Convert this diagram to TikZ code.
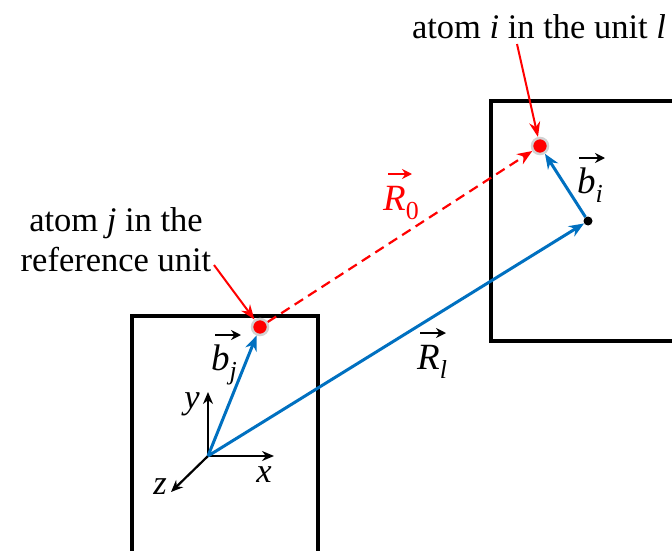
\documentclass[tikz,border=0pt]{standalone}
\usepackage{fontspec}
\setmainfont{Liberation Serif}
\usetikzlibrary{arrows.meta}
\definecolor{vecblue}{RGB}{0,112,192}

\begin{document}
\begin{tikzpicture}[x=1pt,y=-1pt,
    every node/.style={font=\fontsize{34.5}{40}\selectfont},
    veclabel/.style={inner sep=0pt, font=\fontsize{37}{40}\selectfont\itshape},
    cellbox/.style={line width=3.4pt},
    bluevec/.style={vecblue, line width=3pt, -{Stealth[length=15pt,width=12pt]}},
    axisvec/.style={black, line width=2.2pt, -{Stealth[length=12pt,width=10pt]}},
    overarrow/.style={line width=2.2pt, -{Stealth[length=10pt,width=10pt]}},
    pointer/.style={red, line width=2pt, -{Stealth[length=15pt,width=11pt]}},
    reddot/.style={circle, fill=red, draw=gray!35, line width=2.5pt, inner sep=0pt, minimum size=16pt},
    blackdot/.style={circle, fill=black, inner sep=0pt, minimum size=9pt}
]

    \useasboundingbox (0,0) rectangle (672,551);
    \clip (0,0) rectangle (672,551);

    %----- UNIT CELLS -----
    \draw[cellbox] (132,560) -- (132,316) -- (318,316) -- (318,560);
    \draw[cellbox] (680,101) -- (491,101) -- (491,341) -- (680,341);

    %----- ATOMS -----
    \coordinate (O) at (208,456);
    \node[reddot] (atomj) at (260,327) {};
    \node[reddot] (atomi) at (540,146) {};
    \node[blackdot] (dotl) at (588,221) {};

    %----- LOCAL AXES -----
    \draw[axisvec] (O) -- (208,392) coordinate (ytip);
    \draw[axisvec] (O) -- (274,456) coordinate (xtip);
    \draw[axisvec] (O) -- (171,492) coordinate (ztip);
    \node at (192,404) {\textit{y}};
    \node at (264,475) {\textit{x}};
    \node at (160,487) {\textit{z}};

    %----- LATTICE VECTORS -----
    \draw[bluevec] (O) -- (atomj);
    \draw[bluevec] (O) -- (dotl);
    \draw[bluevec] (dotl) -- (atomi);
    \draw[red, line width=2.2pt, dash pattern=on 10pt off 6pt,
          -{Stealth[length=15pt,width=12pt]}] (atomj) -- (atomi);

    %----- VECTOR LABELS -----
    \node[veclabel, anchor=north west] (bj) at (211,345) {b\textsubscript{j}};
    \node[veclabel, anchor=north west] (bi) at (577,168) {b\textsubscript{i}};
    \node[veclabel, anchor=north west] (Rl) at (417,345) {R\textsubscript{l}};
    \node[veclabel, anchor=north west, red] (R0) at (383,186) {R\textsubscript{\upshape 0}};
    \draw[overarrow] ([xshift=4pt,yshift=10pt]bj.north west) -- ++(26,0);
    \draw[overarrow] ([xshift=2pt,yshift=10pt]bi.north west) -- ++(26,0);
    \draw[overarrow] ([xshift=3pt,yshift=12pt]Rl.north west) -- ++(26,0);
    \draw[overarrow, red] ([xshift=5pt,yshift=12pt]R0.north west) -- ++(24,0);

    %----- ATOM NAMES -----
    \node (namei) at (539,27) {atom \textit{i} in the unit \textit{l}};
    \node[align=center] (namej) at (116,240) {atom \textit{j} in the\\reference unit};
    \draw[pointer] (517,44) -- (atomi);
    \draw[pointer] (214,265) -- (atomj);

\end{tikzpicture}
\end{document}
